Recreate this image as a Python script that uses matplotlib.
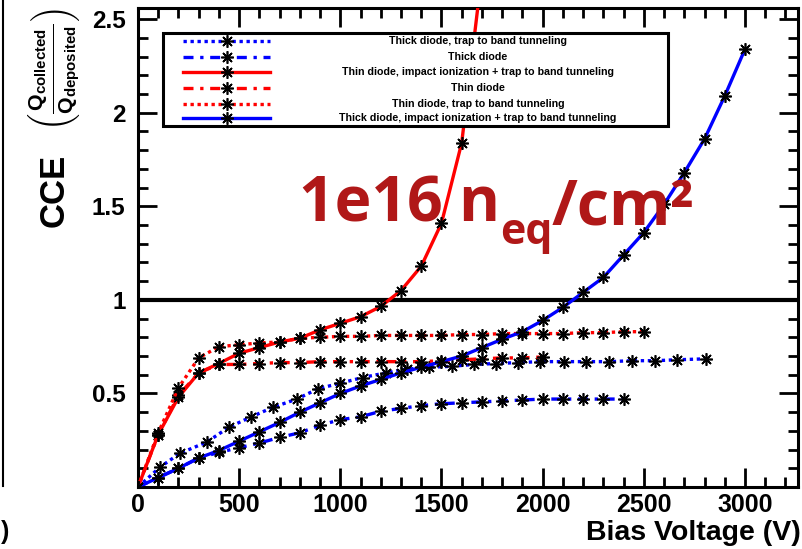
import matplotlib
matplotlib.use("Agg")
import matplotlib.pyplot as plt
from matplotlib.lines import Line2D
from matplotlib.patches import Rectangle
from matplotlib.ticker import MultipleLocator

plt.rcParams['font.family'] = ['Liberation Sans', 'DejaVu Sans']
plt.rcParams['mathtext.fontset'] = 'custom'
plt.rcParams['mathtext.rm'] = 'Liberation Sans:bold'
plt.rcParams['mathtext.it'] = 'Liberation Sans:bold'
plt.rcParams['mathtext.bf'] = 'Liberation Sans:bold'

# ---- data ----
thin_ii_v = [0, 100, 200, 300, 400, 500, 600, 700, 800, 900, 1000, 1100, 1200, 1300, 1400, 1500, 1600, 1700]
thin_ii = [0, 0.28, 0.48, 0.61, 0.66, 0.715, 0.745, 0.775, 0.795, 0.84, 0.875, 0.91, 0.965, 1.05, 1.18, 1.41, 1.84, 2.75]

thin_v = [0, 100, 200, 300, 400, 500, 600, 700, 800, 900, 1000, 1100, 1200, 1300, 1400, 1500, 1600, 1700, 1800, 1900, 2000]
thin = [0, 0.28, 0.49, 0.61, 0.655, 0.655, 0.66, 0.665, 0.665, 0.67, 0.67, 0.67, 0.67, 0.67, 0.67, 0.675, 0.68, 0.685, 0.69, 0.69, 0.695]

thin_tt_v = [0, 100, 200, 300, 400, 500, 600, 700, 800, 900, 1000, 1100, 1200, 1300, 1400, 1500, 1600, 1700, 1800, 1900, 2000, 2100, 2200, 2300, 2400, 2500]
thin_tt = [0, 0.29, 0.53, 0.69, 0.75, 0.76, 0.77, 0.775, 0.795, 0.80, 0.805, 0.805, 0.81, 0.81, 0.81, 0.81, 0.815, 0.815, 0.82, 0.82, 0.82, 0.82, 0.825, 0.825, 0.83, 0.83]

thick_ii_v = [0, 100, 200, 300, 400, 500, 600, 700, 800, 900, 1000, 1100, 1200, 1300, 1400, 1500, 1600, 1700, 1800, 1900, 2000, 2100, 2200, 2300, 2400, 2500, 2600, 2700, 2800, 2900, 3000]
thick_ii = [0, 0.05, 0.10, 0.155, 0.195, 0.245, 0.295, 0.345, 0.40, 0.45, 0.50, 0.54, 0.575, 0.61, 0.64, 0.67, 0.70, 0.745, 0.79, 0.83, 0.89, 0.96, 1.04, 1.12, 1.24, 1.36, 1.51, 1.68, 1.86, 2.09, 2.34]

thick_v = [0, 100, 200, 300, 400, 500, 600, 700, 800, 900, 1000, 1100, 1200, 1300, 1400, 1500, 1600, 1700, 1800, 1900, 2000, 2100, 2200, 2300, 2400]
thick = [0, 0.05, 0.10, 0.155, 0.185, 0.21, 0.235, 0.265, 0.29, 0.33, 0.36, 0.375, 0.405, 0.42, 0.435, 0.445, 0.45, 0.455, 0.46, 0.465, 0.47, 0.47, 0.47, 0.47, 0.47]

thick_tt_v = [0, 110, 207, 340, 450, 560, 665, 785, 890, 1000, 1110, 1225, 1330, 1440, 1550, 1660, 1770, 1880, 1985, 2105, 2215, 2330, 2440, 2555, 2665, 2805]
thick_tt = [0, 0.107, 0.18, 0.24, 0.32, 0.375, 0.425, 0.47, 0.525, 0.555, 0.585, 0.61, 0.63, 0.64, 0.645, 0.655, 0.66, 0.665, 0.67, 0.67, 0.67, 0.67, 0.675, 0.675, 0.68, 0.685]

labels = [
    "Thick diode, trap to band tunneling",
    "Thick diode",
    "Thin diode, impact ionization + trap to band tunneling",
    "Thin diode",
    "Thin diode, trap to band tunneling",
    "Thick diode, impact ionization + trap to band tunneling",
]

RED = '#ff0000'
BLUE = '#0000ff'
dotted = (0, (1.0, 1.1))
dashdot = (0, (3.0, 2.0, 1.0, 2.0))

fig = plt.figure(figsize=(8.03, 5.49), dpi=100)
ax = fig.add_axes([138 / 803, 1 - 487 / 549, (798 - 138) / 803, (487 - 8) / 549])

mk = dict(marker=(8, 2, 0), markersize=9, markeredgecolor='black', markerfacecolor='black', markeredgewidth=1.2)
lw = 2.4
series = [
    (thick_tt_v, thick_tt, BLUE, dotted),
    (thick_v, thick, BLUE, dashdot),
    (thin_ii_v, thin_ii, RED, '-'),
    (thin_v, thin, RED, dashdot),
    (thin_tt_v, thin_tt, RED, dotted),
    (thick_ii_v, thick_ii, BLUE, '-'),
]
for xv, yv, c, ls in series:
    ax.plot(xv, yv, color=c, linestyle=ls, linewidth=lw, zorder=3, **mk)

ax.axhline(1.0, color='black', linewidth=3, zorder=2)

ax.set_xlim(0, 3262)
ax.set_ylim(0, 2.56)
ax.xaxis.set_minor_locator(MultipleLocator(100))
ax.yaxis.set_minor_locator(MultipleLocator(0.1))
ax.set_yticks([0.5, 1, 1.5, 2, 2.5])
ax.set_yticklabels(['0.5', '1', '1.5', '2', '2.5'])
ax.set_xticks([0, 500, 1000, 1500, 2000, 2500, 3000])
ax.tick_params(which='both', direction='in', top=True, right=True, width=2)
ax.tick_params(which='major', length=14)
ax.tick_params(which='minor', length=7)
ax.tick_params(axis='x', pad=4, labelsize=18)
ax.tick_params(axis='y', pad=9, labelsize=17.5)
for t in ax.get_xticklabels() + ax.get_yticklabels():
    t.set_fontweight('bold')
for s in ax.spines.values():
    s.set_linewidth(2.2)

# axis titles
fig.text(801 / 803, 1 - 533 / 549, 'Bias Voltage (V)', ha='right', va='center',
         fontsize=20.5, fontweight='bold')
fig.text(54 / 803, 1 - 190 / 549, 'CCE', rotation=90, ha='center', va='center',
         fontsize=25, fontweight='bold')
fig.text(55 / 803, 1 - 8 / 549,
         r'$\left(\frac{\mathrm{Q}_{\mathrm{collected}}}{\mathrm{Q}_{\mathrm{deposited}}}\right)$',
         rotation=90, ha='center', va='top', fontsize=22, fontweight='bold')

# legend (ROOT style box)
lx0, lx1 = (163 - 138) / 660, (668 - 138) / 660
ly0, ly1 = (487 - 126) / 479, (487 - 33) / 479
ax.add_patch(Rectangle((lx0, ly0), lx1 - lx0, ly1 - ly0, transform=ax.transAxes,
                       facecolor='white', edgecolor='black', linewidth=2.2, zorder=5))
rows_py = [41, 57, 72, 88, 104, 118]
for (xv, yv, c, ls), lab, py in zip(series, labels, rows_py):
    yy = (487 - py) / 479
    ax.add_line(Line2D([(183 - 138) / 660, (270 - 138) / 660], [yy, yy], transform=ax.transAxes,
                       color=c, linestyle=ls, linewidth=lw, zorder=6))
    ax.add_line(Line2D([(227 - 138) / 660], [yy], transform=ax.transAxes, zorder=7, linestyle='none', **mk))
    ax.text((478 - 138) / 660, yy, lab, transform=ax.transAxes, ha='center', va='center',
            fontsize=7.7, fontweight='bold', zorder=7)

# big annotation text
col = '#b01818'
t1 = ax.text((299 - 138) / 660, (487 - 221) / 479, '1e16 n', transform=ax.transAxes,
             ha='left', va='baseline', fontsize=45, fontweight='bold', color=col,
             family='Open Sans', zorder=4)
t2 = ax.annotate('eq', xy=(1, 0), xycoords=t1, xytext=(0, -13), textcoords='offset points',
                 ha='left', va='bottom', fontsize=31, fontweight='bold', color=col,
                 family='Open Sans', zorder=4)
t3 = ax.annotate('/cm²', xy=(1, 0), xycoords=t2, xytext=(-1, 10), textcoords='offset points',
                 ha='left', va='bottom', fontsize=45, fontweight='bold', color=col,
                 family='Open Sans', zorder=4)

# cropped edge artifacts of the original figure
fig.add_artist(Line2D([3 / 803, 3 / 803], [1 - 486 / 549, 1.0], transform=fig.transFigure,
                      color='black', linewidth=1.5))
fig.text(1 / 803, 1 - 532 / 549, ')', ha='left', va='center', fontsize=18, fontweight='bold')

fig.savefig('out.png', dpi=100)
